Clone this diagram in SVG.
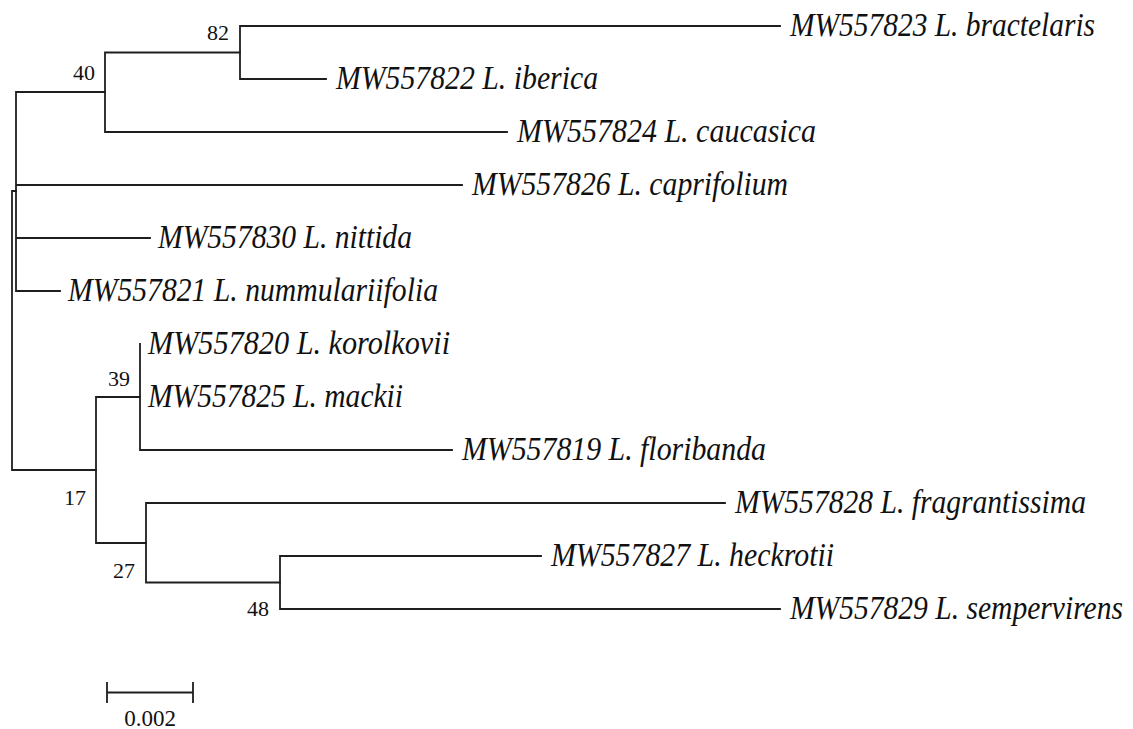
<svg xmlns="http://www.w3.org/2000/svg" width="1133" height="729" viewBox="0 0 1133 729">
<style>
.br{stroke:#1e1e1e;stroke-width:1.8;fill:none;stroke-linecap:square}
.lf{font-family:"Liberation Serif","Times New Roman",serif;font-style:italic;font-size:33px;fill:#111}
.bs{font-family:"Liberation Serif","Times New Roman",serif;font-size:22px;fill:#111}
.sc{font-family:"Liberation Serif","Times New Roman",serif;font-size:23px;fill:#111}
</style>
<rect width="1133" height="729" fill="#fff"/>
<g id="connectors">
<path class="br" d="M12,191V470M12,191H16M12,470H96"/>
<path class="br" d="M16,92V291M16,92H105M16,185H462M16,238H150M16,291H60"/>
<path class="br" d="M105,52.5V132M105,52.5H240M105,132H507"/>
<path class="br" d="M240,26V79M240,26H780M240,79H326"/>
<path class="br" d="M96,397V543M96,397H140M96,543H146"/>
<path class="br" d="M140,344V450M140,450H452"/>
<path class="br" d="M146,503V582.5M146,503H725M146,582.5H280"/>
<path class="br" d="M280,556V609M280,556H541M280,609H780"/>
</g>
<g id="bootstrap">
<text class="bs" x="207" y="40">82</text>
<text class="bs" x="73" y="80">40</text>
<text class="bs" x="108" y="386">39</text>
<text class="bs" x="64" y="505">17</text>
<text class="bs" x="113" y="578">27</text>
<text class="bs" x="247" y="616">48</text>
</g>
<g id="leaf-MW557823"><text class="lf" transform="translate(790,35.5) scale(0.86,1)" textLength="354.7" lengthAdjust="spacingAndGlyphs">MW557823 L. bractelaris</text></g>
<g id="leaf-MW557822"><text class="lf" transform="translate(336,88.5) scale(0.86,1)" textLength="304.7" lengthAdjust="spacingAndGlyphs">MW557822 L. iberica</text></g>
<g id="leaf-MW557824"><text class="lf" transform="translate(517,141.5) scale(0.86,1)" textLength="347.7" lengthAdjust="spacingAndGlyphs">MW557824 L. caucasica</text></g>
<g id="leaf-MW557826"><text class="lf" transform="translate(472,194.5) scale(0.86,1)" textLength="367.4" lengthAdjust="spacingAndGlyphs">MW557826 L. caprifolium</text></g>
<g id="leaf-MW557830"><text class="lf" transform="translate(158,247.5) scale(0.86,1)" textLength="295.3" lengthAdjust="spacingAndGlyphs">MW557830 L. nittida</text></g>
<g id="leaf-MW557821"><text class="lf" transform="translate(68,300.5) scale(0.86,1)" textLength="430.2" lengthAdjust="spacingAndGlyphs">MW557821 L. nummulariifolia</text></g>
<g id="leaf-MW557820"><text class="lf" transform="translate(148,353.5) scale(0.86,1)" textLength="351.2" lengthAdjust="spacingAndGlyphs">MW557820 L. korolkovii</text></g>
<g id="leaf-MW557825"><text class="lf" transform="translate(148,406.5) scale(0.86,1)" textLength="296.5" lengthAdjust="spacingAndGlyphs">MW557825 L. mackii</text></g>
<g id="leaf-MW557819"><text class="lf" transform="translate(462,459.5) scale(0.86,1)" textLength="353.5" lengthAdjust="spacingAndGlyphs">MW557819 L. floribanda</text></g>
<g id="leaf-MW557828"><text class="lf" transform="translate(735,512.5) scale(0.86,1)" textLength="408.1" lengthAdjust="spacingAndGlyphs">MW557828 L. fragrantissima</text></g>
<g id="leaf-MW557827"><text class="lf" transform="translate(551,565.5) scale(0.86,1)" textLength="329.1" lengthAdjust="spacingAndGlyphs">MW557827 L. heckrotii</text></g>
<g id="leaf-MW557829"><text class="lf" transform="translate(790,618.5) scale(0.86,1)" textLength="387.2" lengthAdjust="spacingAndGlyphs">MW557829 L. sempervirens</text></g>
<g id="scale-bar">
<path class="br" d="M107,692.5H193M107,683V702M193,683V702"/>
<text class="sc" x="150" y="726" text-anchor="middle">0.002</text>
</g>
</svg>
